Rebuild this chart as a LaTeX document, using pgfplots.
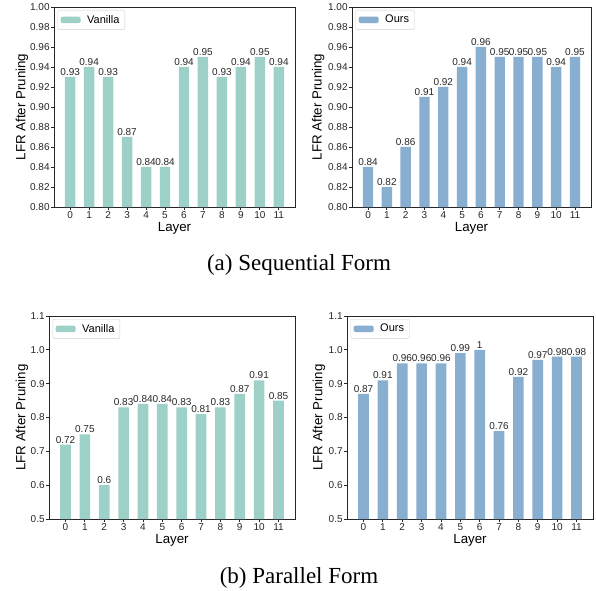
\documentclass[border=0pt]{standalone}
\usepackage{fontspec}
\setmainfont{Liberation Sans}
\newfontfamily\capfont{Liberation Serif}
\usepackage{pgfplots}
\pgfplotsset{compat=1.18}
\definecolor{vanilla}{HTML}{9DD1C7}
\definecolor{ours}{HTML}{89AFD0}
\pgfplotsset{
  mybar/.style={
    scale only axis, ybar, bar width=0.55,
    xmin=-0.8525, xmax=11.8525,
    xtick={0,...,11}, tick align=outside, xtick pos=bottom, ytick pos=left,
    major tick length=3pt,
    axis line style={line width=0.8pt, black!85},
    every tick/.style={black!85, line width=0.8pt},
    ticklabel style={font=\fontsize{10}{11}\selectfont, text=black!85},
    yticklabel style={inner sep=1.2pt},
    xticklabel style={inner sep=1.5pt},
    label style={font=\fontsize{13.3}{15}\selectfont},
    /pgf/number format/assume math mode=true,
    xlabel=Layer, ylabel=LFR After Pruning,
    nodes near coords, point meta=explicit symbolic,
    nodes near coords style={font=\fontsize{10}{11}\selectfont, anchor=base, inner sep=0pt, yshift=1.5pt, text=black!85},
    legend image code/.code={\fill[##1] (0pt,-3.25pt) rectangle (20pt,3.25pt);},
    legend style={at={(0,1)}, anchor=north west, xshift=3.5pt, yshift=-3pt,
      draw=black!18, rounded corners=2pt, font=\fontsize{11}{13}\selectfont,
      inner xsep=3pt, inner ysep=2.5pt, nodes={inner sep=2.5pt},
      /tikz/every odd column/.append style={column sep=4pt}},
  },
  topy/.style={ymin=0.8, ymax=1.0, ytick={0.80,0.82,...,1.001},
    yticklabel style={/pgf/number format/.cd, fixed, fixed zerofill, precision=2}},
  boty/.style={ymin=0.5, ymax=1.1, ytick={0.5,0.6,...,1.101},
    yticklabel style={/pgf/number format/.cd, fixed, fixed zerofill, precision=1}},
}
\begin{document}
\begin{tikzpicture}
\useasboundingbox (0pt,0pt) rectangle (596pt,590pt);
% (a) left
\begin{axis}[mybar, topy, at={(54pt,583pt)}, anchor=north west, width=241pt, height=200pt,
  xlabel style={at={(axis description cs:0.5,-0.105)}, anchor=center},
  ylabel style={at={(axis description cs:-0.133,0.5)}, anchor=center}]
\addplot[fill=vanilla, draw=none] coordinates {
(0,0.93) [0.93] (1,0.94) [0.94] (2,0.93) [0.93] (3,0.87) [0.87]
(4,0.84) [0.84] (5,0.84) [0.84] (6,0.94) [0.94] (7,0.95) [0.95]
(8,0.93) [0.93] (9,0.94) [0.94] (10,0.95) [0.95] (11,0.94) [0.94]};
\addlegendentry{Vanilla}
\end{axis}
% (a) right
\begin{axis}[mybar, topy, at={(352pt,583pt)}, anchor=north west, width=239pt, height=200pt,
  xlabel style={at={(axis description cs:0.5,-0.105)}, anchor=center},
  ylabel style={at={(axis description cs:-0.142,0.5)}, anchor=center}]
\addplot[fill=ours, draw=none] coordinates {
(0,0.84) [0.84] (1,0.82) [0.82] (2,0.86) [0.86] (3,0.91) [0.91]
(4,0.92) [0.92] (5,0.94) [0.94] (6,0.96) [0.96] (7,0.95) [0.95]
(8,0.95) [0.95] (9,0.95) [0.95] (10,0.94) [0.94] (11,0.95) [0.95]};
\addlegendentry{Ours}
\end{axis}
% (b) left
\begin{axis}[mybar, boty, at={(49pt,274pt)}, anchor=north west, width=246pt, height=203pt,
  xlabel style={at={(axis description cs:0.5,-0.103)}, anchor=center},
  ylabel style={at={(axis description cs:-0.110,0.5)}, anchor=center}]
\addplot[fill=vanilla, draw=none] coordinates {
(0,0.72) [0.72] (1,0.75) [0.75] (2,0.6) [0.6] (3,0.83) [0.83]
(4,0.84) [0.84] (5,0.84) [0.84] (6,0.83) [0.83] (7,0.81) [0.81]
(8,0.83) [0.83] (9,0.87) [0.87] (10,0.91) [0.91] (11,0.85) [0.85]};
\addlegendentry{Vanilla}
\end{axis}
% (b) right
\begin{axis}[mybar, boty, at={(347pt,274pt)}, anchor=north west, width=246pt, height=203pt,
  xlabel style={at={(axis description cs:0.5,-0.103)}, anchor=center},
  ylabel style={at={(axis description cs:-0.114,0.5)}, anchor=center}]
\addplot[fill=ours, draw=none] coordinates {
(0,0.87) [0.87] (1,0.91) [0.91] (2,0.96) [0.96] (3,0.96) [0.96]
(4,0.96) [0.96] (5,0.99) [0.99] (6,1) [1] (7,0.76) [0.76]
(8,0.92) [0.92] (9,0.97) [0.97] (10,0.98) [0.98] (11,0.98) [0.98]};
\addlegendentry{Ours}
\end{axis}
\node[font=\capfont\fontsize{23}{26}\selectfont, anchor=base] at (299pt,320pt) {(a) Sequential Form};
\node[font=\capfont\fontsize{23}{26}\selectfont, anchor=base] at (299pt,7pt) {(b) Parallel Form};
\end{tikzpicture}
\end{document}
